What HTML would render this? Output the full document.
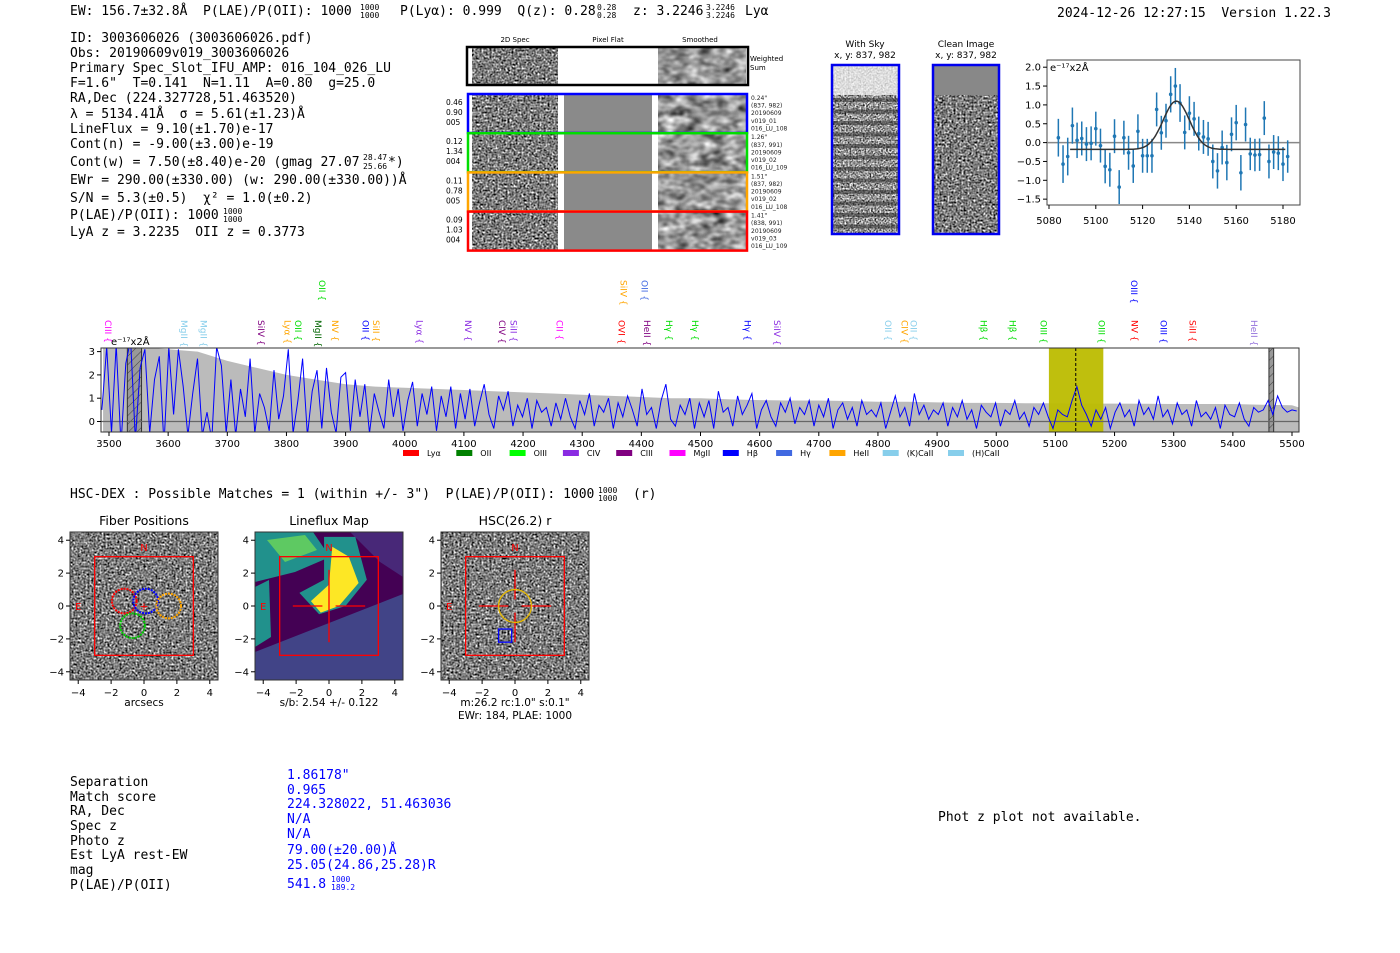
<!DOCTYPE html>
<html><head><meta charset="utf-8"><style>
body{margin:0;background:#fff;}
svg{display:block;font-family:"DejaVu Sans","Liberation Sans",sans-serif;}
.mono{font-family:"DejaVu Sans Mono","Liberation Mono",monospace;font-size:13px;white-space:pre;}
.mono text{white-space:pre;}
.tk{font-size:10px;}
.sm{font-size:6px;fill:#222;}
</style></head><body>
<svg id="fig" width="1400" height="953" viewBox="0 0 1400 953" xmlns="http://www.w3.org/2000/svg" xml:space="preserve">
<defs>
<filter id="nz" x="0" y="0" width="100%" height="100%" color-interpolation-filters="sRGB"><feTurbulence type="fractalNoise" baseFrequency="0.5" numOctaves="1" seed="3"/><feColorMatrix type="matrix" values="0.33 0.33 0.33 0 0  0.33 0.33 0.33 0 0  0.33 0.33 0.33 0 0  0 0 0 0 1"/><feComponentTransfer><feFuncR type="linear" slope="2.8" intercept="-0.9"/><feFuncG type="linear" slope="2.8" intercept="-0.9"/><feFuncB type="linear" slope="2.8" intercept="-0.9"/></feComponentTransfer></filter>
<filter id="nz2" x="0" y="0" width="100%" height="100%" color-interpolation-filters="sRGB"><feTurbulence type="fractalNoise" baseFrequency="0.08 0.12" numOctaves="2" seed="7"/><feColorMatrix type="matrix" values="0.33 0.33 0.33 0 0  0.33 0.33 0.33 0 0  0.33 0.33 0.33 0 0  0 0 0 0 1"/><feComponentTransfer><feFuncR type="linear" slope="2.0" intercept="-0.4"/><feFuncG type="linear" slope="2.0" intercept="-0.4"/><feFuncB type="linear" slope="2.0" intercept="-0.4"/></feComponentTransfer></filter>
<filter id="nz3" x="0" y="0" width="100%" height="100%" color-interpolation-filters="sRGB"><feTurbulence type="fractalNoise" baseFrequency="0.6" numOctaves="1" seed="11"/><feColorMatrix type="matrix" values="0.33 0.33 0.33 0 0  0.33 0.33 0.33 0 0  0.33 0.33 0.33 0 0  0 0 0 0 1"/><feComponentTransfer><feFuncR type="linear" slope="3" intercept="-0.9"/><feFuncG type="linear" slope="3" intercept="-0.9"/><feFuncB type="linear" slope="3" intercept="-0.9"/></feComponentTransfer></filter>
<clipPath id="specclip"><rect x="101" y="348" width="1198" height="84"/></clipPath>
<clipPath id="gclip"><rect x="1047" y="60" width="253" height="145"/></clipPath>
<pattern id="hatch" width="6" height="6" patternUnits="userSpaceOnUse" patternTransform="rotate(45)"><rect width="6" height="6" fill="#999"/><line x1="0" y1="0" x2="0" y2="6" stroke="#444" stroke-width="1"/></pattern>
</defs>

<!-- header -->
<g class="mono">
<text x="70" y="15">EW: 156.7±32.8Å  P(LAE)/P(OII): 1000</text>
<text x="360" y="10" font-size="8">1000</text><text x="360" y="18" font-size="8">1000</text>
<text x="400" y="15">P(Lyα): 0.999  Q(z): 0.28</text>
<text x="597" y="10" font-size="8">0.28</text><text x="597" y="18" font-size="8">0.28</text>
<text x="633" y="15">z: 3.2246</text>
<text x="706" y="10" font-size="8">3.2246</text><text x="706" y="18" font-size="8">3.2246</text>
<text x="745" y="15">Lyα</text>
<text x="1057" y="17">2024-12-26 12:27:15  Version 1.22.3</text>
</g>

<g class="mono">
<text x="70" y="42">ID: 3003606026 (3003606026.pdf)</text>
<text x="70" y="57">Obs: 20190609v019_3003606026</text>
<text x="70" y="72">Primary Spec_Slot_IFU_AMP: 016_104_026_LU</text>
<text x="70" y="87">F=1.6"  T=0.141  N=1.11  A=0.80  g=25.0</text>
<text x="70" y="102">RA,Dec (224.327728,51.463520)</text>
<text x="70" y="118">λ = 5134.41Å  σ = 5.61(±1.23)Å</text>
<text x="70" y="133">LineFlux = 9.10(±1.70)e-17</text>
<text x="70" y="148">Cont(n) = -9.00(±3.00)e-19</text>
<text x="70" y="166">Cont(w) = 7.50(±8.40)e-20 (gmag 27.07</text>
<text x="388" y="166">*)</text>
<text x="363" y="160" font-size="8">28.47</text><text x="363" y="169" font-size="8">25.66</text>
<text x="70" y="184">EWr = 290.00(±330.00) (w: 290.00(±330.00))Å</text>
<text x="70" y="202">S/N = 5.3(±0.5)  χ² = 1.0(±0.2)</text>
<text x="70" y="219">P(LAE)/P(OII): 1000</text>
<text x="223" y="214" font-size="8">1000</text><text x="223" y="222" font-size="8">1000</text>
<text x="70" y="236">LyA z = 3.2235  OII z = 0.3773</text>
</g>

<!-- 2D spec cutouts -->
<g id="cutouts" font-size="7">
<text x="515" y="42" text-anchor="middle">2D Spec</text>
<text x="608" y="42" text-anchor="middle">Pixel Flat</text>
<text x="700" y="42" text-anchor="middle">Smoothed</text>
<g>
<rect x="472" y="48" width="86" height="36" filter="url(#nz)"/>
<rect x="658" y="48" width="88" height="36" filter="url(#nz2)"/>
<rect x="467" y="47" width="281" height="38" fill="none" stroke="#000" stroke-width="2.5"/>
<text x="750" y="61">Weighted</text><text x="750" y="70">Sum</text>
</g>
</g>

<!-- sky images -->
<g font-size="9">
<text x="865" y="47" text-anchor="middle">With Sky</text><text x="865" y="58" text-anchor="middle">x, y: 837, 982</text>
<text x="966" y="47" text-anchor="middle">Clean Image</text><text x="966" y="58" text-anchor="middle">x, y: 837, 982</text>
<rect x="832" y="65" width="67" height="169" filter="url(#nz3)"/>
<rect x="832" y="65" width="67" height="30" fill="#f4f4f4" opacity="0.75"/>
<g id="skystripes"></g>
<rect x="832" y="65" width="67" height="169" fill="none" stroke="#0000ee" stroke-width="2.5"/>
<rect x="933" y="65" width="66" height="169" filter="url(#nz)"/>
<rect x="933" y="65" width="66" height="30" fill="#888"/>
<rect x="933" y="65" width="66" height="169" fill="none" stroke="#0000ee" stroke-width="2.5"/>
</g>

<!-- gaussian fit plot -->
<g id="gplot"></g>

<!-- main spectrum -->
<g id="spec"></g>

<!-- HSC-DEX -->
<g class="mono">
<text x="70" y="498">HSC-DEX : Possible Matches = 1 (within +/- 3")  P(LAE)/P(OII): 1000</text>
<text x="598" y="493" font-size="8">1000</text><text x="598" y="501" font-size="8">1000</text>
<text x="633" y="498">(r)</text>
</g>

<g id="panels"></g>

<g class="mono">
<text x="70" y="786">Separation</text><text x="70" y="801">Match score</text><text x="70" y="815">RA, Dec</text><text x="70" y="830">Spec z</text><text x="70" y="845">Photo z</text><text x="70" y="859">Est LyA rest-EW</text><text x="70" y="874">mag</text><text x="70" y="889">P(LAE)/P(OII)</text>
<g fill="#0000ff">
<text x="287" y="779">1.86178"</text><text x="287" y="794">0.965</text><text x="287" y="808">224.328022, 51.463036</text><text x="287" y="823">N/A</text><text x="287" y="838">N/A</text><text x="287" y="854">79.00(±20.00)Å</text><text x="287" y="869">25.05(24.86,25.28)R</text><text x="287" y="888">541.8</text>
<text x="331" y="882" font-size="8">1000</text><text x="331" y="890" font-size="8">189.2</text>
</g>
<text x="938" y="821">Phot z plot not available.</text>
</g>
</svg>
<script>
const NS="http://www.w3.org/2000/svg";
function mk(tag,attrs,parent,txt){const e=document.createElementNS(NS,tag);for(const k in attrs)e.setAttribute(k,attrs[k]);if(txt!==undefined)e.textContent=txt;parent.appendChild(e);return e;}

// ---------- cutout rows ----------
const rowColors=["#0000ff","#00dd00","#ffa500","#ff0000"];
const rowLeft=[["0.46","0.90","005"],["0.12","1.34","004"],["0.11","0.78","005"],["0.09","1.03","004"]];
const rowRight=[["0.24\"","(837, 982)","20190609","v019_01","016_LU_108"],["1.26\"","(837, 991)","20190609","v019_02","016_LU_109"],["1.51\"","(837, 982)","20190609","v019_02","016_LU_108"],["1.41\"","(838, 991)","20190609","v019_03","016_LU_109"]];
const cut=document.getElementById('cutouts');
rowColors.forEach((c,i)=>{
  const y=95+i*39.2;
  const g=mk('g',{},cut);
  
  
  mk('rect',{x:472,y:y,width:86,height:37,filter:'url(#nz)'},g);
  mk('rect',{x:564,y:y,width:88,height:37,fill:'#8a8a8a'},g);
  mk('rect',{x:658,y:y,width:88,height:37,filter:'url(#nz2)'},g);
  mk('rect',{x:468,y:y-1,width:279,height:39,fill:'none',stroke:c,'stroke-width':2.5},g);
  rowLeft[i].forEach((t,j)=>mk('text',{x:446,y:y+10+j*10,'font-size':7.5},g,t));
  rowRight[i].forEach((t,j)=>mk('text',{x:751,y:y+5+j*7.6,class:'sm'},g,t));
});
const ss=document.getElementById('skystripes');
for(let k=0;k<12;k++){mk('rect',{x:832,y:98+k*11.5,width:67,height:4,fill:'#222',opacity:0.5},ss);}

// ---------- gaussian fit plot ----------
const gWave=[5084,5086,5088,5090,5092,5094,5096,5098,5100,5102,5104,5106,5108,5110,5112,5114,5116,5118,5120,5122,5124,5126,5128,5130,5132,5134,5136,5138,5140,5142,5144,5146,5148,5150,5152,5154,5156,5158,5160,5162,5164,5166,5168,5170,5172,5174,5176,5178,5180,5182];
const gFlux=[0.13,-0.57,-0.37,0.45,0.06,0.11,-0.04,-0.02,0.37,-0.08,-0.63,-0.72,0.17,-1.18,0.13,-0.27,-0.62,0.30,-0.35,-0.35,-0.35,0.88,0.26,0.58,1.28,1.50,1.05,0.27,0.78,0.63,0.24,0.15,0.10,-0.50,-0.75,-0.13,-0.53,0.22,0.53,-0.80,0.48,-0.30,-0.33,-0.32,0.65,-0.50,-0.25,-0.28,-0.57,-0.37];
const gErr=[0.5,0.5,0.5,0.48,0.47,0.45,0.45,0.45,0.45,0.45,0.45,0.45,0.45,0.45,0.45,0.45,0.45,0.45,0.45,0.45,0.45,0.45,0.45,0.45,0.48,0.48,0.5,0.45,0.45,0.45,0.45,0.45,0.45,0.45,0.47,0.45,0.47,0.45,0.47,0.47,0.45,0.43,0.43,0.43,0.45,0.45,0.45,0.45,0.45,0.43];
const gFit={center:5134.41,sigma:5.61,amp:1.28,base:-0.18,lo:5089,hi:5181};
const gXTicks=[5080,5100,5120,5140,5160,5180];
const gYTicks=[2.0,1.5,1.0,0.5,0.0,-0.5,-1.0,-1.5];
(function(){
  const G=document.getElementById('gplot');
  const X=w=>1049+(w-5080)*2.34, Y=v=>142.6-v*37.7;
  mk('rect',{x:1047,y:60,width:253,height:145,fill:'#fff',stroke:'#444','stroke-width':1},G);
  gXTicks.forEach(t=>{mk('line',{x1:X(t),x2:X(t),y1:205,y2:209,stroke:'#000'},G);const e=mk('text',{x:X(t),y:224,'text-anchor':'middle',class:'tk'},G,t);});
  gYTicks.forEach(t=>{mk('line',{x1:1043,x2:1047,y1:Y(t),y2:Y(t),stroke:'#000'},G);const e=mk('text',{x:1041,y:Y(t)+3.5,'text-anchor':'end',class:'tk'},G,t.toFixed(1).replace('-','−'));});
  mk('text',{x:1050,y:71,class:'tk'},G,'e⁻¹⁷x2Å');
  const c=mk('g',{'clip-path':'url(#gclip)'},G);
  mk('line',{x1:1047,x2:1300,y1:Y(0),y2:Y(0),stroke:'#888','stroke-width':1.5},c);
  gWave.forEach((w,i)=>{
    const ln=mk('line',{x1:X(w),x2:X(w),y1:Y(gFlux[i]+gErr[i]),y2:Y(gFlux[i]-gErr[i]),stroke:'#1f77b4','stroke-width':1.5},c);
    
    const p=mk('circle',{cx:X(w),cy:Y(gFlux[i]),r:1.8,fill:'#1f77b4'},c);
    
  });
  let d='';
  for(let w=gFit.lo;w<=gFit.hi;w+=0.5){const v=gFit.base+gFit.amp*Math.exp(-0.5*Math.pow((w-gFit.center)/gFit.sigma,2));d+=(d?'L':'M')+X(w).toFixed(1)+','+Y(v).toFixed(1);}
  const f=mk('path',{d:d,fill:'none',stroke:'#333','stroke-width':1.5},c);
  
})();

// ---------- main spectrum ----------
const specStart=3488, specStep=8.08;
const specFlux=[0.5,3.2,-0.5,3.3,-1,2.5,3.5,-0.8,2.3,3.1,-0.5,1.8,2.8,-1,3.2,0.3,3.1,1.5,-0.6,1.2,2.7,-0.6,0.4,-0.8,3.2,2.4,-0.5,
1.8,-0.6,1.4,0.2,2.7,-0.5,1.2,0.6,-0.4,2.2,0.1,1.1,3.1,-0.5,0.9,2.7,-0.6,1.3,2.2,-0.3,2.3,0.4,-0.5,1.9,
2.1,-0.4,1.8,0.2,1.6,-0.5,1.2,0.4,-0.3,1.8,0.2,1.4,-0.4,0.9,1.7,-0.2,1.2,0.3,1.5,-0.4,1.1,0.2,1.5,-0.3,
1.2,0.1,1.4,-0.2,0.8,1.6,0.3,-0.3,1.1,0.5,1.3,-0.2,0.7,0.2,1.0,-0.3,0.9,0.4,0.6,-0.2,0.8,0.1,1.0,0.2,-0.3,
0.9,0.3,1.2,-0.2,0.7,0.4,1.0,-0.3,0.8,0.2,1.1,0.5,-0.2,1.4,0.3,0.6,-0.3,0.9,1.6,0.1,-0.2,0.7,0.3,1.0,-0.3,
0.8,0.2,0.9,-0.3,1.3,0.4,0.6,-0.2,1.1,0.3,0.7,1.2,-0.3,0.5,0.9,0.2,-0.2,0.8,0.4,1.0,-0.1,0.6,0.3,0.9,-0.2,
0.7,0.2,1.0,-0.3,0.5,0.8,0.1,0.6,-0.2,0.9,0.3,0.5,0.2,0.8,-0.3,0.4,1.1,0.2,0.6,-0.2,1.2,0.3,0.7,0.1,0.5,
0.3,0.8,-0.2,0.6,0.2,0.9,0.1,0.5,-0.3,0.7,0.4,0.2,0.8,-0.2,0.5,0.3,0.9,0.1,0.4,-0.2,0.6,0.3,0.8,0.2,-0.3,
0.5,0.3,0.2,0.9,1.5,0.7,0.3,-0.2,0.5,0.1,0.6,-0.3,0.4,0.8,0.2,0.5,-0.2,0.9,0.3,0.6,0.1,1.1,0.2,0.5,-0.1,
0.8,0.3,0.5,-0.2,0.9,0.2,0.4,0.1,0.6,-0.3,0.7,0.3,0.2,0.8,0.1,-0.2,0.6,0.4,0.5,0.9,0.3,1.1,0.6,0.4,0.5,0.45];
const noiseWave=[3490,3500,3550,3600,3650,3700,3750,3800,3850,3900,3950,4000,4050,4100,4150,4200,4250,4300,4350,4400,4450,4500,4550,4600,4650,4700,4750,4800,4850,4900,4950,5000,5050,5100,5150,5200,5250,5300,5350,5400,5450,5500,5512];
const noiseVal=[3.2,3.2,3.2,3.1,3.0,2.6,2.3,2.0,1.8,1.6,1.5,1.45,1.4,1.35,1.3,1.25,1.2,1.15,1.1,1.05,1.0,1.0,0.95,0.92,0.9,0.9,0.88,0.85,0.85,0.82,0.8,0.8,0.78,0.78,0.77,0.77,0.76,0.75,0.75,0.75,0.72,0.7,0.6];
const xTicks=[3500,3600,3700,3800,3900,4000,4100,4200,4300,4400,4500,4600,4700,4800,4900,5000,5100,5200,5300,5400,5500];
const yTicks=[0,1,2,3];
const lineNames=["CIII","MgII","MgII","SiIV","Lyα","OII","MgII","OII","NV","OII","SiII","Lyα","NV","CIV","SiII","CII","OVI","SiIV","OII","HeII","Hγ","Hγ","Hγ","SiIV","OII","CIV","OII","Hβ","Hβ","OIII","OIII","OIII","NV","OIII","SiII","HeII"];
const lineWave=[3497,3625,3658,3755,3800,3818,3852,3858,3880,3932,3950,4023,4105,4163,4182,4260,4365,4368,4404,4408,4445,4489,4578,4628,4815,4843,4858,4977,5026,5078,5176,5231,5232,5281,5330,5434];
const lineColor=["#ff00ff","#87ceeb","#87ceeb","#800080","#ffa500","#00dd00","#006400","#00dd00","#ffa500","#0000ff","#ffa500","#8a2be2","#8a2be2","#800080","#8a2be2","#ff00ff","#ff0000","#ffa500","#4169e1","#800080","#00dd00","#00dd00","#0000ff","#8a2be2","#87ceeb","#ffa500","#87ceeb","#00dd00","#00dd00","#00dd00","#00dd00","#0000ff","#ff0000","#0000ff","#ff0000","#9370db"];
const lineRow=[0,0,0,0,0,0,0,1,0,0,0,0,0,0,0,0,0,1,1,0,0,0,0,0,0,0,0,0,0,0,0,1,0,0,0,0];
const legendNames=["Lyα","OII","OIII","CIV","CIII","MgII","Hβ","Hγ","HeII","(K)CaII","(H)CaII"];
const legendColors=["#ff0000","#008000","#00ff00","#8a2be2","#800080","#ff00ff","#0000ff","#4169e1","#ffa500","#87ceeb","#87ceeb"];
const fitWindow=[5089,5181], fitCenter=5134.41;
const maskBands=[[3531,3555],[5461,5469]];
(function(){
  const S=document.getElementById('spec');
  const X=w=>109+(w-3500)*0.5915, Y=v=>421.5-v*23.3;
  mk('rect',{x:101,y:348,width:1198,height:84,fill:'#fff'},S);
  const c=mk('g',{'clip-path':'url(#specclip)'},S);
  let d='M'+X(noiseWave[0])+',432';
  noiseWave.forEach((w,i)=>d+='L'+X(w).toFixed(1)+','+Y(noiseVal[i]).toFixed(1));
  d+='L'+X(noiseWave[noiseWave.length-1])+',432Z';
  const n=mk('path',{d:d,fill:'#bbb'},c);
  
  const fw=mk('rect',{x:X(fitWindow[0]),y:348,width:X(fitWindow[1])-X(fitWindow[0]),height:84,fill:'#bcbc00',opacity:0.95},c);
  
  maskBands.forEach(b=>{const r=mk('rect',{x:X(b[0]),y:348,width:X(b[1])-X(b[0]),height:84,fill:'url(#hatch)',stroke:'#333','stroke-width':1},c);});
  mk('line',{x1:101,x2:1299,y1:Y(0),y2:Y(0),stroke:'#666','stroke-width':1.2},c);
  let p='';
  specFlux.forEach((v,i)=>{p+=(p?'L':'M')+X(specStart+i*specStep).toFixed(1)+','+Y(v).toFixed(1);});
  const fl=mk('path',{d:p,fill:'none',stroke:'#0000ff','stroke-width':1},c);
  
  mk('line',{x1:X(fitCenter),x2:X(fitCenter),y1:348,y2:432,stroke:'#000','stroke-dasharray':'3,2'},c);
  mk('rect',{x:101,y:348,width:1198,height:84,fill:'none',stroke:'#333','stroke-width':1},S);
  xTicks.forEach(t=>{mk('line',{x1:X(t),x2:X(t),y1:432,y2:436,stroke:'#000'},S);const e=mk('text',{x:X(t),y:447,'text-anchor':'middle',class:'tk'},S,t);});
  yTicks.forEach(t=>{mk('line',{x1:97,x2:101,y1:Y(t),y2:Y(t),stroke:'#000'},S);const e=mk('text',{x:95,y:Y(t)+3.5,'text-anchor':'end',class:'tk'},S,t);});
  mk('text',{x:111,y:345,class:'tk'},S,'e⁻¹⁷x2Å');
  lineNames.forEach((nm,i)=>{
    const x=X(lineWave[i]), top=lineRow[i]?280:320;
    const t=mk('text',{x:x,y:top,fill:lineColor[i],'font-size':9,style:'writing-mode:vertical-rl;'},S,nm+' {');
    
  });
  legendNames.forEach((nm,i)=>{
    const lx=403+i*53.3+(i===10?12:0);
    const g=mk('g',{},S);
    
    mk('rect',{x:lx,y:450,width:16,height:6,fill:legendColors[i]},g);
    mk('text',{x:lx+24,y:456,'font-size':8},g,nm);
  });
})();

// ---------- imaging panels ----------
const panelTitles=["Fiber Positions","Lineflux Map","HSC(26.2) r"];
const panelLeft=[70,255,441];
const panelTicks=[-4,-2,0,2,4];
const fiberX=[-1.2,0.1,1.5,-0.7], fiberY=[0.3,0.3,0,-1.2];
const fiberColors=["#ff0000","#0000ff","#ffa500","#00cc00"];
(function(){
  const P=document.getElementById('panels');
  const S=148/9;
  panelLeft.forEach((L,k)=>{
    const T=532, cx=L+74, cy=T+74;
    const X=v=>cx+v*S, Y=v=>cy-v*S;
    const g=mk('g',{},P);
    
    mk('text',{x:cx,y:525,'text-anchor':'middle','font-size':12.5},g,panelTitles[k]);
    if(k===1){
      mk('rect',{x:L,y:T,width:148,height:148,fill:'#440154'},g);
      mk('polygon',{points:`${L+95},${T} ${L+148},${T} ${L+148},${T+45} ${L+125},${T+30}`,fill:'#482878'},g);
      mk('polygon',{points:`${L},${T} ${L+58},${T} ${L+75},${T+25} ${L+40},${T+40} ${L},${T+50}`,fill:'#21918c'},g);
      mk('polygon',{points:`${L+12},${T+8} ${L+50},${T+3} ${L+62},${T+18} ${L+30},${T+30}`,fill:'#5ec962'},g);
      mk('polygon',{points:`${L},${T+55} ${L+14},${T+48} ${L+16},${T+105} ${L},${T+115}`,fill:'#21918c'},g);
      mk('polygon',{points:`${X(-1.8)},${Y(0.8)} ${X(-0.3)},${Y(1.6)} ${X(-0.3)},${Y(4.2)} ${X(1.6)},${Y(4.2)} ${X(2.3)},${Y(1.6)} ${X(1.0)},${Y(0)} ${X(-0.6)},${Y(-0.5)}`,fill:'#21918c'},g);
      mk('polygon',{points:`${X(-1.1)},${Y(0.3)} ${X(0)},${Y(1.3)} ${X(0.2)},${Y(3.6)} ${X(1.2)},${Y(3.0)} ${X(1.8)},${Y(1.4)} ${X(0.6)},${Y(0)} ${X(-0.5)},${Y(-0.4)}`,fill:'#fde725'},g);
      mk('polygon',{points:`${L},${T+148} ${L+148},${T+148} ${L+148},${T+62} ${L},${T+120}`,fill:'#414487'},g);
    } else {
      mk('rect',{x:L,y:T,width:148,height:148,filter:'url(#nz)'},g);
    }
    mk('rect',{x:X(-3),y:Y(3),width:6*S,height:6*S,fill:'none',stroke:'#ff0000','stroke-width':1.3},g);
    mk('text',{x:X(0),y:Y(3.6)+4,'text-anchor':'middle',fill:'#ff0000','font-size':10},g,'N');
    mk('text',{x:X(-4),y:Y(0)+4,'text-anchor':'middle',fill:'#ff0000','font-size':10},g,'E');
    if(k===0){
      mk('text',{x:X(0),y:Y(0)+4,'text-anchor':'middle',fill:'#ff0000','font-size':11},g,'+');
      fiberX.forEach((fx,i)=>{const ci=mk('circle',{cx:X(fx),cy:Y(fiberY[i]),r:0.75*S,fill:'none',stroke:fiberColors[i],'stroke-width':2,'stroke-dasharray':'2,1'},g);});
    } else {
      [[-2.2,-0.4],[0.4,2.2]].forEach(s=>mk('line',{x1:X(s[0]),x2:X(s[1]),y1:Y(0),y2:Y(0),stroke:'#ff0000','stroke-width':1.3},g));
      if(k===1) mk('line',{x1:X(0),x2:X(0),y1:Y(2.2),y2:Y(-2.2),stroke:'#ff0000','stroke-width':1.3},g);
      else {[[2.2,0.4],[-0.4,-2.2]].forEach(s=>mk('line',{x1:X(0),x2:X(0),y1:Y(s[0]),y2:Y(s[1]),stroke:'#ff0000','stroke-width':1.3},g));
        mk('circle',{cx:X(0),cy:Y(0),r:S,fill:'none',stroke:'#e6b800','stroke-width':1.3},g);
        mk('rect',{x:X(-1),y:Y(-1.4),width:0.8*S,height:0.8*S,fill:'none',stroke:'#0000ff','stroke-width':1.3},g);}
    }
    mk('rect',{x:L,y:T,width:148,height:148,fill:'none',stroke:'#333'},g);
    panelTicks.forEach(t=>{
      mk('line',{x1:X(t),x2:X(t),y1:T+148,y2:T+152,stroke:'#000'},g);
      mk('text',{x:X(t),y:T+164,'text-anchor':'middle',class:'tk'},g,String(t).replace('-','−'));
      mk('line',{x1:L-4,x2:L,y1:Y(t),y2:Y(t),stroke:'#000'},g);
      mk('text',{x:L-6,y:Y(t)+3.5,'text-anchor':'end',class:'tk'},g,String(t).replace('-','−'));
    });
  });
  mk('text',{x:144,y:706,'text-anchor':'middle','font-size':10.5},P,'arcsecs');
  mk('text',{x:329,y:706,'text-anchor':'middle','font-size':10.5},P,'s/b: 2.54 +/- 0.122');
  mk('text',{x:515,y:706,'text-anchor':'middle','font-size':10.5},P,'m:26.2 rc:1.0"  s:0.1"');
  mk('text',{x:515,y:719,'text-anchor':'middle','font-size':10.5},P,'EWr: 184, PLAE: 1000');
})();
</script>
</body></html>
